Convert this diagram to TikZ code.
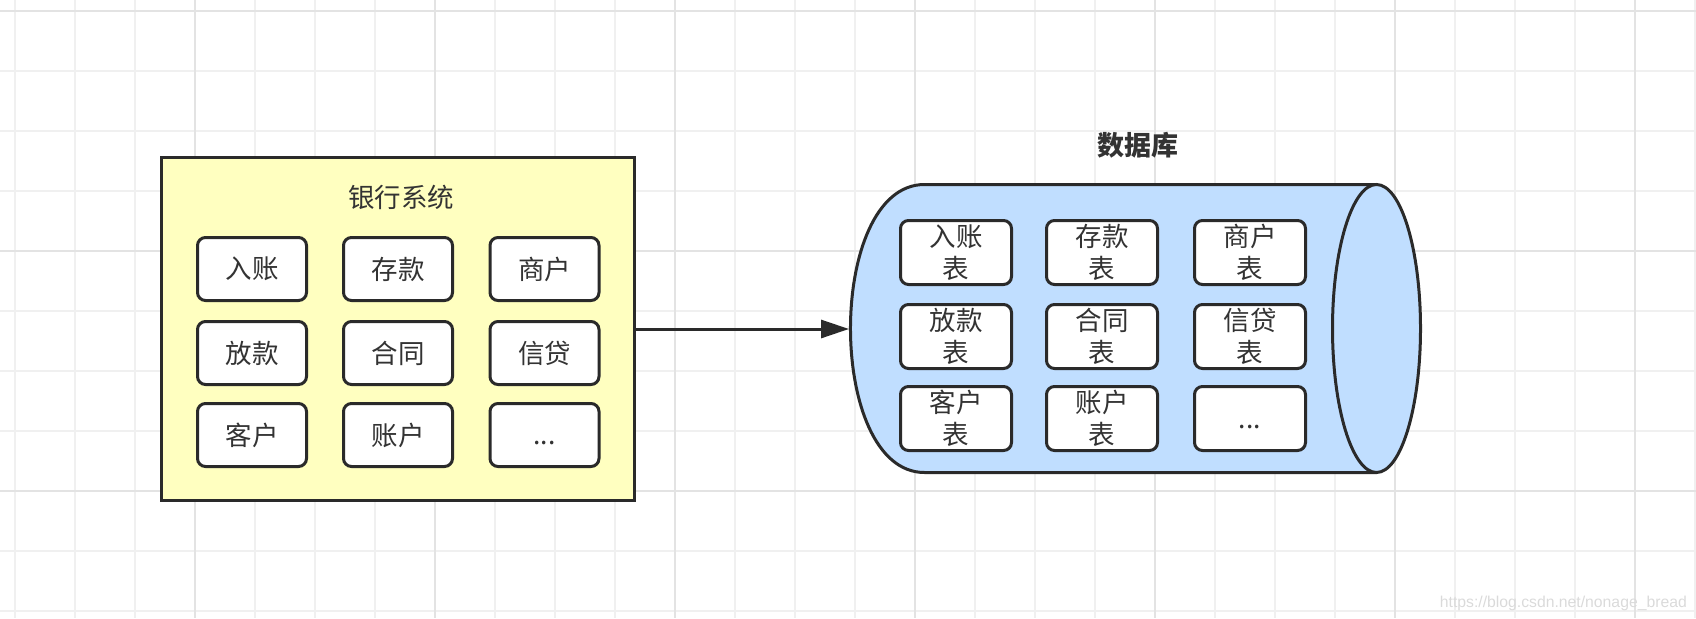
\documentclass[tikz,border=0pt]{standalone}
\usepackage{fontspec}
\setmainfont{Noto Sans CJK SC}
\newfontfamily\wmfont{Liberation Sans}
\usetikzlibrary{arrows.meta}
\definecolor{gridminor}{HTML}{F0F0F0}
\definecolor{gridmajor}{HTML}{E3E3E3}
\definecolor{ink}{HTML}{2A2A2A}
\definecolor{txt}{HTML}{333333}
\definecolor{sysfill}{HTML}{FFFFC0}
\definecolor{dbfill}{HTML}{C0DEFF}
\definecolor{wmgray}{HTML}{DADADA}
\begin{document}
\begin{tikzpicture}[x=1pt,y=-1pt,
  item/.style={draw=ink, line width=3pt, fill=white, rounded corners=8pt,
    minimum width=109pt, minimum height=63pt, inner sep=0pt, text=txt,
    font=\fontsize{26.5}{32.5}\selectfont, align=center},
  tbl/.style={item, minimum width=111pt, minimum height=64pt},
  minorline/.style={draw=gridminor, line width=1.5pt},
  majorline/.style={draw=gridmajor, line width=1.5pt}]
\useasboundingbox (0,0) rectangle (1696,618);
% grid
\foreach \i in {0,...,28} \draw[minorline] ({15+60*\i},0) -- ({15+60*\i},618);
\foreach \j in {0,...,10} \draw[minorline] (0,{11+60*\j}) -- (1696,{11+60*\j});
\foreach \x in {195,435,675,915,1155,1395,1635} \draw[majorline] (\x,0) -- (\x,618);
\foreach \y in {11,251,491} \draw[majorline] (0,\y) -- (1696,\y);
% bank system
\node[draw=ink, line width=3pt, fill=sysfill, minimum width=473pt, minimum height=343pt, inner sep=0pt] (sys) at (398,329) {};
\node[text=txt, font=\fontsize{26.5}{32}\selectfont, inner sep=0pt] (systitle) at (401,197) {银行系统};
\node[item] (s11) at (252,269) {入账};
\node[item] (s12) at (398,269) {存款};
\node[item] (s13) at (544.5,269) {商户};
\node[item] (s21) at (252,353) {放款};
\node[item] (s22) at (398,353) {合同};
\node[item] (s23) at (544.5,353) {信贷};
\node[item] (s31) at (252,435) {客户};
\node[item] (s32) at (398,435) {账户};
\node[item] (s33) at (544.5,435) {\vphantom{入}...};
% database cylinder
\filldraw[draw=ink, fill=dbfill, line width=3pt, line join=round]
  (924.5,184.5) -- (1376.5,184.5) -- (1376.5,472.5) -- (924.5,472.5)
  .. controls (825.8,472.5) and (825.8,184.5) .. (924.5,184.5) -- cycle;
\filldraw[draw=ink, fill=dbfill, line width=3pt] (1376.5,328.5) ellipse[x radius=44, y radius=144];
\coordinate (dbL) at (849,329);
\node[text=txt, font=\fontsize{27}{32}\selectfont\bfseries, inner sep=0pt] (dbtitle) at (1137.5,145) {数据库};
\node[tbl] (t11) at (956,252.5) {入账\\表};
\node[tbl] (t12) at (1102,252.5) {存款\\表};
\node[tbl] (t13) at (1250,252.5) {商户\\表};
\node[tbl] (t21) at (956,336.5) {放款\\表};
\node[tbl] (t22) at (1102,336.5) {合同\\表};
\node[tbl] (t23) at (1250,336.5) {信贷\\表};
\node[tbl] (t31) at (956,418.5) {客户\\表};
\node[tbl] (t32) at (1102,418.5) {账户\\表};
\node[tbl] (t33) at (1250,418.5) {\vphantom{入}...};
% arrow
\draw[draw=ink, line width=3pt, -{Triangle[length=28pt,width=18pt]}] (sys.east) -- (dbL);
% watermark
\node[anchor=base east, inner sep=0pt, text=wmgray, font=\wmfont\fontsize{15.75}{18}\selectfont] (wm) at (1687,607) {https://blog.csdn.net/nonage\_bread};
\end{tikzpicture}
\end{document}
